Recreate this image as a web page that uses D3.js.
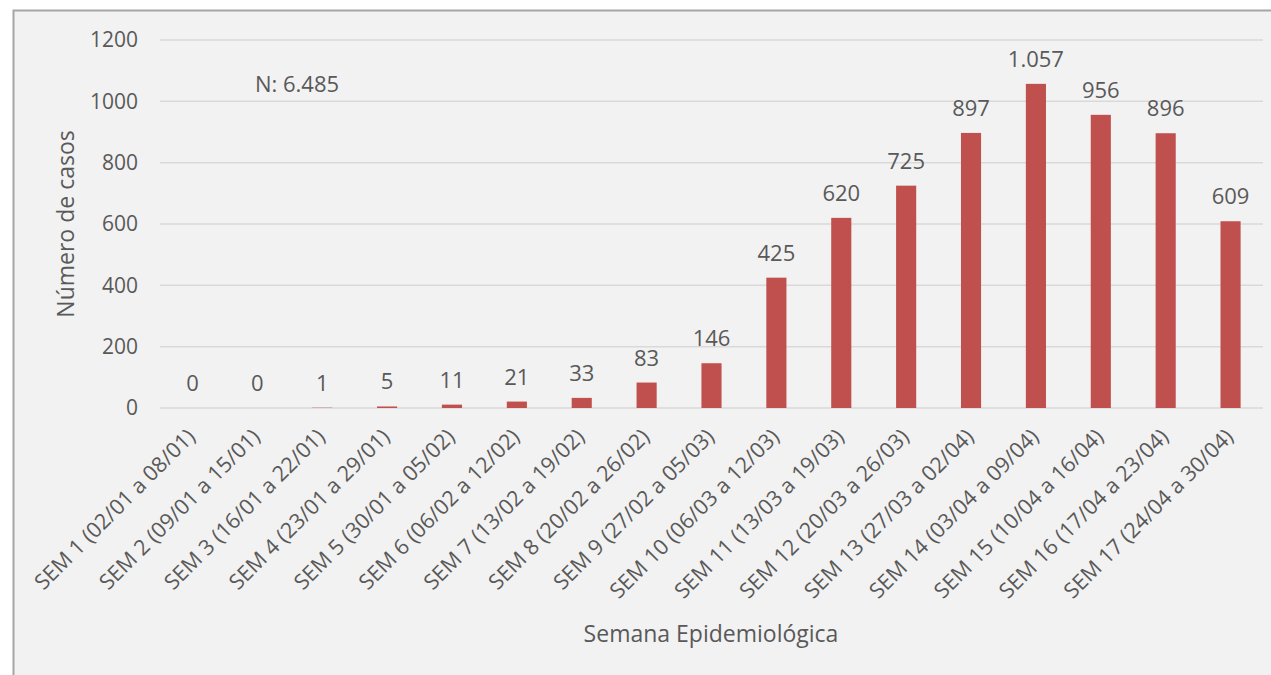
<!DOCTYPE html>
<meta charset="utf-8">
<style>
  body { margin: 0; background: #fff; }
  text { font-family: "Open Sans", sans-serif; fill: #595959; }
  .bar { fill: #c0504d; }
  .grid line { stroke: #d9d9d9; stroke-width: 1.5px; }
</style>
<body>
<script src="https://d3js.org/d3.v7.min.js"></script>
<script>

  // chart data
  var semanas = ["SEM 1 (02/01 a 08/01)", "SEM 2 (09/01 a 15/01)", "SEM 3 (16/01 a 22/01)",
    "SEM 4 (23/01 a 29/01)", "SEM 5 (30/01 a 05/02)", "SEM 6 (06/02 a 12/02)",
    "SEM 7 (13/02 a 19/02)", "SEM 8 (20/02 a 26/02)", "SEM 9 (27/02 a 05/03)",
    "SEM 10 (06/03 a 12/03)", "SEM 11 (13/03 a 19/03)", "SEM 12 (20/03 a 26/03)",
    "SEM 13 (27/03 a 02/04)", "SEM 14 (03/04 a 09/04)", "SEM 15 (10/04 a 16/04)",
    "SEM 16 (17/04 a 23/04)", "SEM 17 (24/04 a 30/04)"];
  var casos = [0, 0, 1, 5, 11, 21, 33, 83, 146, 425, 620, 725, 897, 1057, 956, 896, 609];
  var yTicks = [0, 200, 400, 600, 800, 1000, 1200];
  var totalLabel = "N: 6.485";

  var width = 1271, height = 675;
  var plot = { left: 160, right: 1263, top: 40, bottom: 408 };

  var svg = d3.select("body").append("svg")
    .attr("width", width)
    .attr("height", height);

  // chart area background + border
  svg.append("rect")
    .attr("x", 13.5).attr("y", 10.5)
    .attr("width", width).attr("height", height)
    .attr("fill", "#f2f2f2")
    .attr("stroke", "#a6a6a6")
    .attr("stroke-width", 2);

  var x = d3.scaleBand()
    .domain(semanas)
    .range([plot.left, plot.right])
    .paddingInner(0.69)
    .paddingOuter(0.345);

  var y = d3.scaleLinear()
    .domain([0, 1200])
    .range([plot.bottom, plot.top]);

  // gridlines
  svg.append("g")
    .attr("class", "grid")
    .selectAll("line")
    .data(yTicks)
    .enter().append("line")
    .attr("x1", plot.left).attr("x2", plot.right)
    .attr("y1", d => y(d)).attr("y2", d => y(d));

  // y axis labels
  var yAxis = svg.append("g")
    .attr("transform", "translate(" + plot.left + ",0)")
    .call(d3.axisLeft(y).tickValues(yTicks).tickFormat(d3.format("d")).tickSize(0).tickPadding(22));
  yAxis.select(".domain").remove();
  yAxis.selectAll("text")
    .style("font-size", "21px")
    .attr("fill", null);

  // bars
  svg.selectAll(".bar")
    .data(casos)
    .enter().append("rect")
    .attr("class", "bar")
    .attr("x", (d, i) => x(semanas[i]))
    .attr("width", x.bandwidth())
    .attr("y", d => y(d))
    .attr("height", d => plot.bottom - y(d));

  // value labels (pt-BR thousands separator)
  var fmt = d3.formatLocale({ decimal: ",", thousands: ".", grouping: [3], currency: ["R$", ""] }).format(",d");
  svg.selectAll(".val")
    .data(casos)
    .enter().append("text")
    .attr("class", "val")
    .attr("x", (d, i) => x(semanas[i]) + x.bandwidth() / 2)
    .attr("y", d => y(d) - 17)
    .attr("text-anchor", "middle")
    .style("font-size", "22px")
    .text(d => fmt(d));

  // x axis labels
  var xAxis = svg.append("g")
    .attr("transform", "translate(0," + plot.bottom + ")")
    .call(d3.axisBottom(x).tickSize(0).tickPadding(0));
  xAxis.select(".domain").remove();
  xAxis.selectAll("text")
    .attr("fill", null)
    .style("font-size", "21.5px")
    .attr("text-anchor", "end")
    .attr("dy", null)
    .attr("transform", "translate(4,30) rotate(-45)");

  // axis titles
  svg.append("text")
    .attr("transform", "translate(74,224) rotate(-90)")
    .attr("text-anchor", "middle")
    .style("font-size", "23px")
    .text("Número de casos");

  svg.append("text")
    .attr("x", 711).attr("y", 642)
    .attr("text-anchor", "middle")
    .style("font-size", "23px")
    .text("Semana Epidemiológica");

  svg.append("text")
    .attr("x", 297).attr("y", 92)
    .attr("text-anchor", "middle")
    .style("font-size", "22px")
    .text(totalLabel);

</script>
</body>
